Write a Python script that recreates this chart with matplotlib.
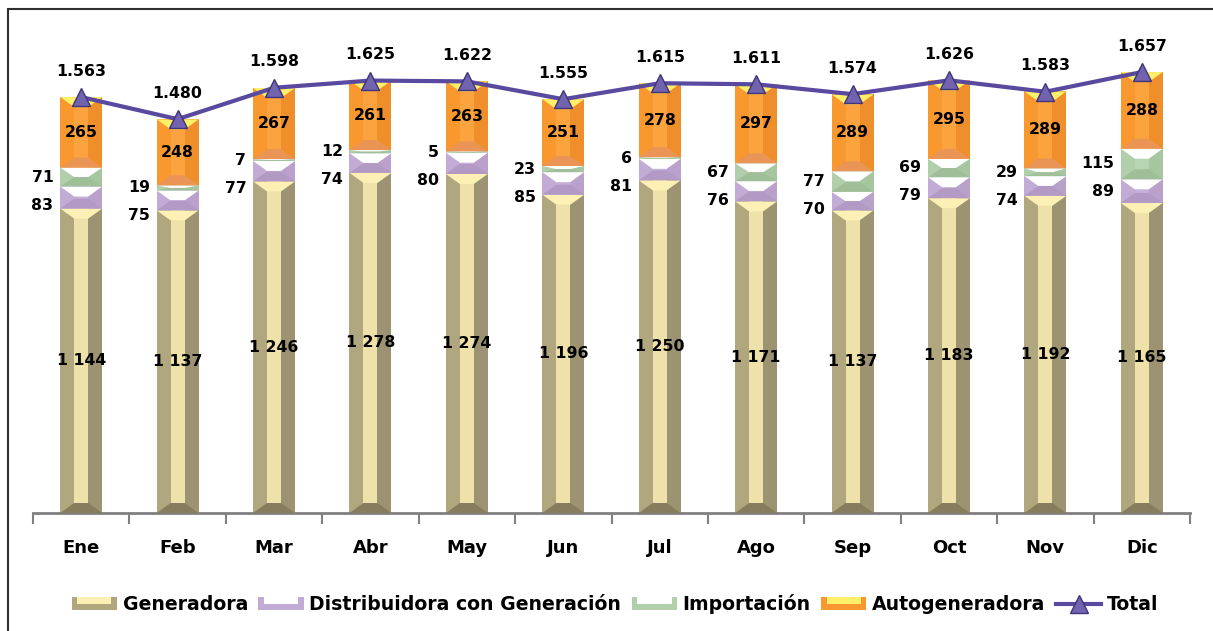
import matplotlib
matplotlib.use("Agg")
import matplotlib.pyplot as plt
from matplotlib.patches import Rectangle, Polygon
from matplotlib.lines import Line2D
from matplotlib.legend_handler import HandlerBase
import numpy as np

months = ["Ene", "Feb", "Mar", "Abr", "May", "Jun", "Jul", "Ago", "Sep", "Oct", "Nov", "Dic"]
generadora = [1144, 1137, 1246, 1278, 1274, 1196, 1250, 1171, 1137, 1183, 1192, 1165]
distribuidora = [83, 75, 77, 74, 80, 85, 81, 76, 70, 79, 74, 89]
importacion = [71, 19, 7, 12, 5, 23, 6, 67, 77, 69, 29, 115]
autogeneradora = [265, 248, 267, 261, 263, 251, 278, 297, 289, 295, 289, 288]
total = [1563, 1480, 1598, 1625, 1622, 1555, 1615, 1611, 1574, 1626, 1583, 1657]

series_names = ["Generadora", "Distribuidora con Generación", "Importación", "Autogeneradora"]
# colors: (left side, center, right side, top bevel, bottom bevel)
styles = {
    "Generadora": ("#b1a77f", "#eee1aa", "#9c9372", "#fcf0b5", "#867d5d"),
    "Distribuidora con Generación": ("#c2abd4", "#c6b0d8", "#b9a1cb", "#ffffff", "#b29ac4"),
    "Importación": ("#b0cfaa", "#b6d5b0", "#a6c6a0", "#ffffff", "#9fbf99"),
    "Autogeneradora": ("#f8982f", "#fba43f", "#ef8f2c", "#fff06a", "#ea9455"),
}
line_color = "#5a4a9f"

W, H = 1213, 631
fig = plt.figure(figsize=(W / 100, H / 100), dpi=100)
ax = fig.add_axes([33 / W, 118 / H, (1190 - 33) / W, 479 / H])
ymax = 1800
ax.set_ylim(0, ymax)
ax.set_xlim(-0.5, len(months) - 0.5)

x = np.arange(len(months))
bw = 0.435
units_per_px = ymax / 479.0
bevel = 10 * units_per_px

def bevel_bar(xc, bottom, height, st):
    h = bw / 2
    top = bottom + height
    left, center, right, tcol, bcol = st
    ax.add_patch(Rectangle((xc - h, bottom), bw, height, facecolor=left, edgecolor="none", zorder=2))
    ax.add_patch(Rectangle((xc + h / 3, bottom), h * 2 / 3, height, facecolor=right, edgecolor="none", zorder=2))
    ax.add_patch(Rectangle((xc - h / 3, bottom), h * 2 / 3, height, facecolor=center, edgecolor="none", zorder=2))
    d = min(bevel, height / 2)
    ax.add_patch(Polygon([(xc - h, top), (xc + h, top), (xc + h / 3, top - d), (xc - h / 3, top - d)],
                         closed=True, facecolor=tcol, edgecolor="none", zorder=3))
    ax.add_patch(Polygon([(xc - h, bottom), (xc + h, bottom), (xc + h / 3, bottom + d), (xc - h / 3, bottom + d)],
                         closed=True, facecolor=bcol, edgecolor="none", zorder=3))

data = [generadora, distribuidora, importacion, autogeneradora]
bottoms = np.zeros(len(months))
for name, vals in zip(series_names, data):
    for i in range(len(months)):
        bevel_bar(x[i], bottoms[i], vals[i], styles[name])
    bottoms = bottoms + np.array(vals)

lab_kw = dict(fontsize=11.3, fontweight="bold", color="black", zorder=6)
gen = np.array(generadora)
dist = np.array(distribuidora)
imp = np.array(importacion)
auto = np.array(autogeneradora)
min_sep = 28 * units_per_px
for i in range(len(months)):
    ax.text(x[i], gen[i] / 2, f"{gen[i]:,}".replace(",", " "), ha="center", va="center", **lab_kw)
    d_mid = gen[i] + dist[i] / 2
    i_mid = gen[i] + dist[i] + imp[i] / 2
    d_pos = min(d_mid, i_mid - min_sep)
    xl = x[i] - bw / 2 - 0.07
    ax.text(xl, d_pos, f"{dist[i]}", ha="right", va="center", **lab_kw)
    ax.text(xl, i_mid, f"{imp[i]}", ha="right", va="center", **lab_kw)
    a_mid = gen[i] + dist[i] + imp[i] + auto[i] / 2
    ax.text(x[i], a_mid, f"{auto[i]}", ha="center", va="center", **lab_kw)
    ax.text(x[i], total[i] + 26 * units_per_px, f"{total[i]:,}".replace(",", "."), ha="center", va="center", **lab_kw)

ax.plot(x, total, color=line_color, lw=3, marker="^", markersize=13,
        markerfacecolor="#7163ad", markeredgecolor="#40357a", markeredgewidth=1, zorder=5)

for s in ["top", "right", "left"]:
    ax.spines[s].set_visible(False)
ax.spines["bottom"].set_color("#808080")
ax.spines["bottom"].set_linewidth(2)
ax.set_yticks([])
ax.set_xticks(x)
ax.set_xticklabels(months, fontsize=13, fontweight="bold")
ax.tick_params(axis="x", which="major", length=0, pad=19)
ax.set_xticks(np.arange(-0.5, len(months), 1.0), minor=True)
ax.tick_params(axis="x", which="minor", length=8, width=1.5, color="#808080", direction="out")

class BevelHandler(HandlerBase):
    def __init__(self, st):
        super().__init__()
        self.st = st
    def create_artists(self, legend, orig_handle, xdescent, ydescent, width, height, fontsize, trans):
        left, center, right, tcol, bcol = self.st
        r1 = Rectangle((-xdescent, -ydescent), width, height, facecolor=left, edgecolor="none", transform=trans)
        r2 = Rectangle((-xdescent + width * 0.12, -ydescent + height * 0.45), width * 0.76, height * 0.55,
                       facecolor=tcol, edgecolor="none", transform=trans)
        return [r1, r2]

handles = [Rectangle((0, 0), 1, 1) for _ in series_names]
handler_map = {h: BevelHandler(styles[n]) for h, n in zip(handles, series_names)}
line_handle = Line2D([], [], color=line_color, lw=3, marker="^", markersize=13,
                     markerfacecolor="#7163ad", markeredgecolor="#40357a")
leg = fig.legend(handles + [line_handle], series_names + ["Total"], loc="center",
                 bbox_to_anchor=(615 / W, 1 - 604 / H), ncol=5, frameon=False,
                 handler_map=handler_map, prop={"weight": "bold", "size": 13.6},
                 handlelength=2.4, handleheight=0.65, handletextpad=0.3, columnspacing=0.55)

fig.patches.append(Rectangle((8 / W, -0.05), 1.2, 1 - 9 / H + 0.05, transform=fig.transFigure,
                             fill=False, edgecolor="#303030", lw=1.5))

fig.savefig("out.png", dpi=100)
